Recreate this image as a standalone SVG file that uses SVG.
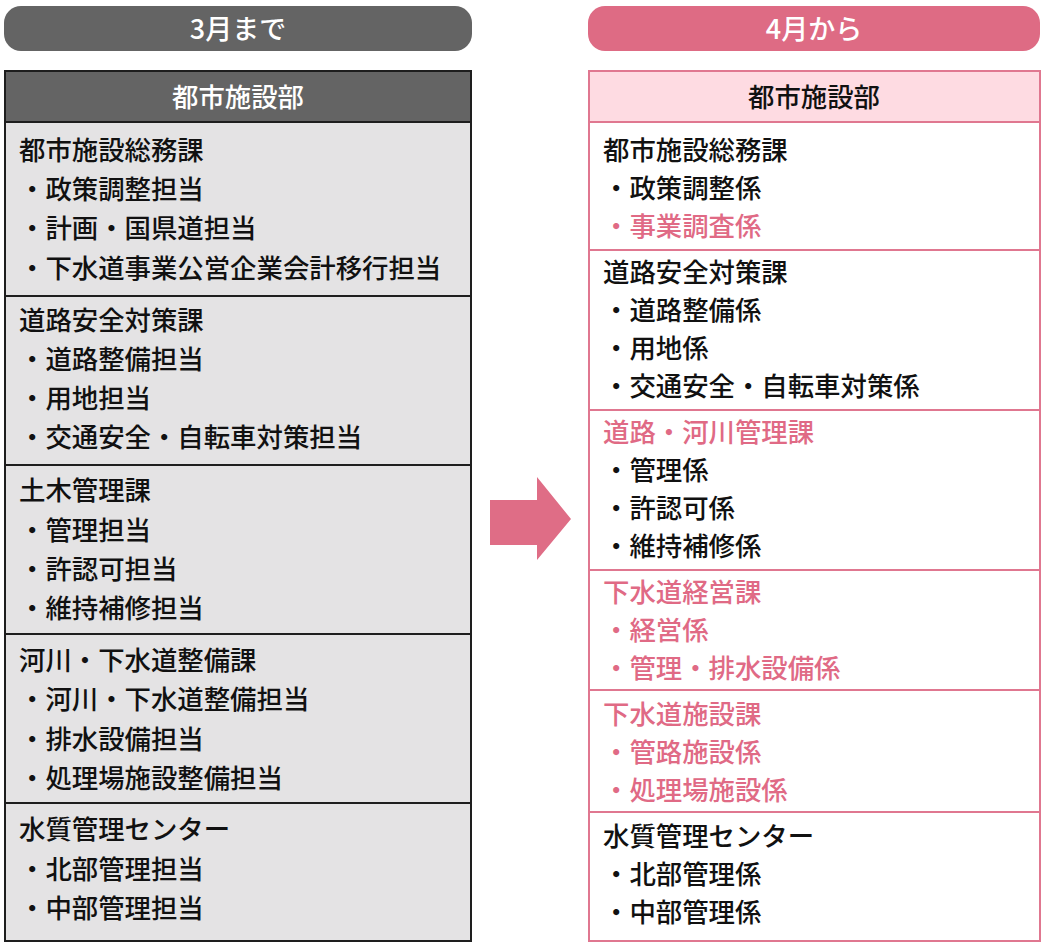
<svg xmlns="http://www.w3.org/2000/svg" width="1043" height="943" viewBox="0 0 1043 943">
<style>
text{font-family:"Noto Sans CJK JP","Noto Sans CJK SC",sans-serif;font-size:26.4px;font-weight:500;dominant-baseline:central;fill:#111}
.w{fill:#fff}
.h{font-size:27px}
.c{text-anchor:middle}
.p{fill:#e06a85}
.ld{stroke:#1e1e1e;stroke-width:2}
.rd{stroke:#e07790;stroke-width:2}
</style>
<rect width="1043" height="943" fill="#fff"/>
<g id="pill-left"><rect x="4" y="6" width="468" height="45" rx="17" fill="#646464"/><text class="w c h" x="238" y="27">3月まで</text></g>
<g id="pill-right"><rect x="588" y="6" width="452" height="45" rx="17" fill="#de6b84"/><text class="w c h" x="814" y="27">4月から</text></g>

<g id="left-box">
<rect x="5" y="71" width="466" height="870" fill="#e4e3e4" class="ld"/>
<rect x="5" y="71" width="466" height="51" fill="#646464" class="ld"/>
<text class="w c" x="238" y="95">都市施設部</text>
<line x1="5" y1="296" x2="471" y2="296" class="ld"/>
<line x1="5" y1="465" x2="471" y2="465" class="ld"/>
<line x1="5" y1="634" x2="471" y2="634" class="ld"/>
<line x1="5" y1="803" x2="471" y2="803" class="ld"/>
</g>
<g id="left-s1"><text x="19" y="148">都市施設総務課</text><text x="19" y="187">・政策調整担当</text><text x="19" y="226">・計画・国県道担当</text><text x="19" y="266">・下水道事業公営企業会計移行担当</text></g>
<g id="left-s2"><text x="19" y="318">道路安全対策課</text><text x="19" y="357">・道路整備担当</text><text x="19" y="396">・用地担当</text><text x="19" y="435">・交通安全・自転車対策担当</text></g>
<g id="left-s3"><text x="19" y="488">土木管理課</text><text x="19" y="528">・管理担当</text><text x="19" y="567">・許認可担当</text><text x="19" y="606">・維持補修担当</text></g>
<g id="left-s4"><text x="19" y="658">河川・下水道整備課</text><text x="19" y="697">・河川・下水道整備担当</text><text x="19" y="737">・排水設備担当</text><text x="19" y="776">・処理場施設整備担当</text></g>
<g id="left-s5"><text x="19" y="827">水質管理センター</text><text x="19" y="867">・北部管理担当</text><text x="19" y="906">・中部管理担当</text></g>

<g id="connectors"><polygon points="490,500 537,500 537,477 571,519 537,560 537,545 490,545" fill="#df6d86"/></g>

<g id="right-box">
<rect x="589" y="71" width="451" height="870" fill="#fff" class="rd"/>
<rect x="589" y="71" width="451" height="51" fill="#fedbe2" class="rd"/>
<text class="c" x="814" y="95">都市施設部</text>
<line x1="589" y1="250" x2="1040" y2="250" class="rd"/>
<line x1="589" y1="410" x2="1040" y2="410" class="rd"/>
<line x1="589" y1="570" x2="1040" y2="570" class="rd"/>
<line x1="589" y1="690" x2="1040" y2="690" class="rd"/>
<line x1="589" y1="812" x2="1040" y2="812" class="rd"/>
</g>
<g id="right-s1"><text x="603" y="148">都市施設総務課</text><text x="603" y="186">・政策調整係</text><text class="p" x="603" y="224">・事業調査係</text></g>
<g id="right-s2"><text x="603" y="270">道路安全対策課</text><text x="603" y="308">・道路整備係</text><text x="603" y="346">・用地係</text><text x="603" y="384">・交通安全・自転車対策係</text></g>
<g id="right-s3"><text class="p" x="603" y="430">道路・河川管理課</text><text x="603" y="468">・管理係</text><text x="603" y="506">・許認可係</text><text x="603" y="544">・維持補修係</text></g>
<g id="right-s4"><text class="p" x="603" y="590">下水道経営課</text><text class="p" x="603" y="628">・経営係</text><text class="p" x="603" y="666">・管理・排水設備係</text></g>
<g id="right-s5"><text class="p" x="603" y="712">下水道施設課</text><text class="p" x="603" y="750">・管路施設係</text><text class="p" x="603" y="788">・処理場施設係</text></g>
<g id="right-s6"><text x="603" y="834">水質管理センター</text><text x="603" y="872">・北部管理係</text><text x="603" y="910">・中部管理係</text></g>
</svg>
